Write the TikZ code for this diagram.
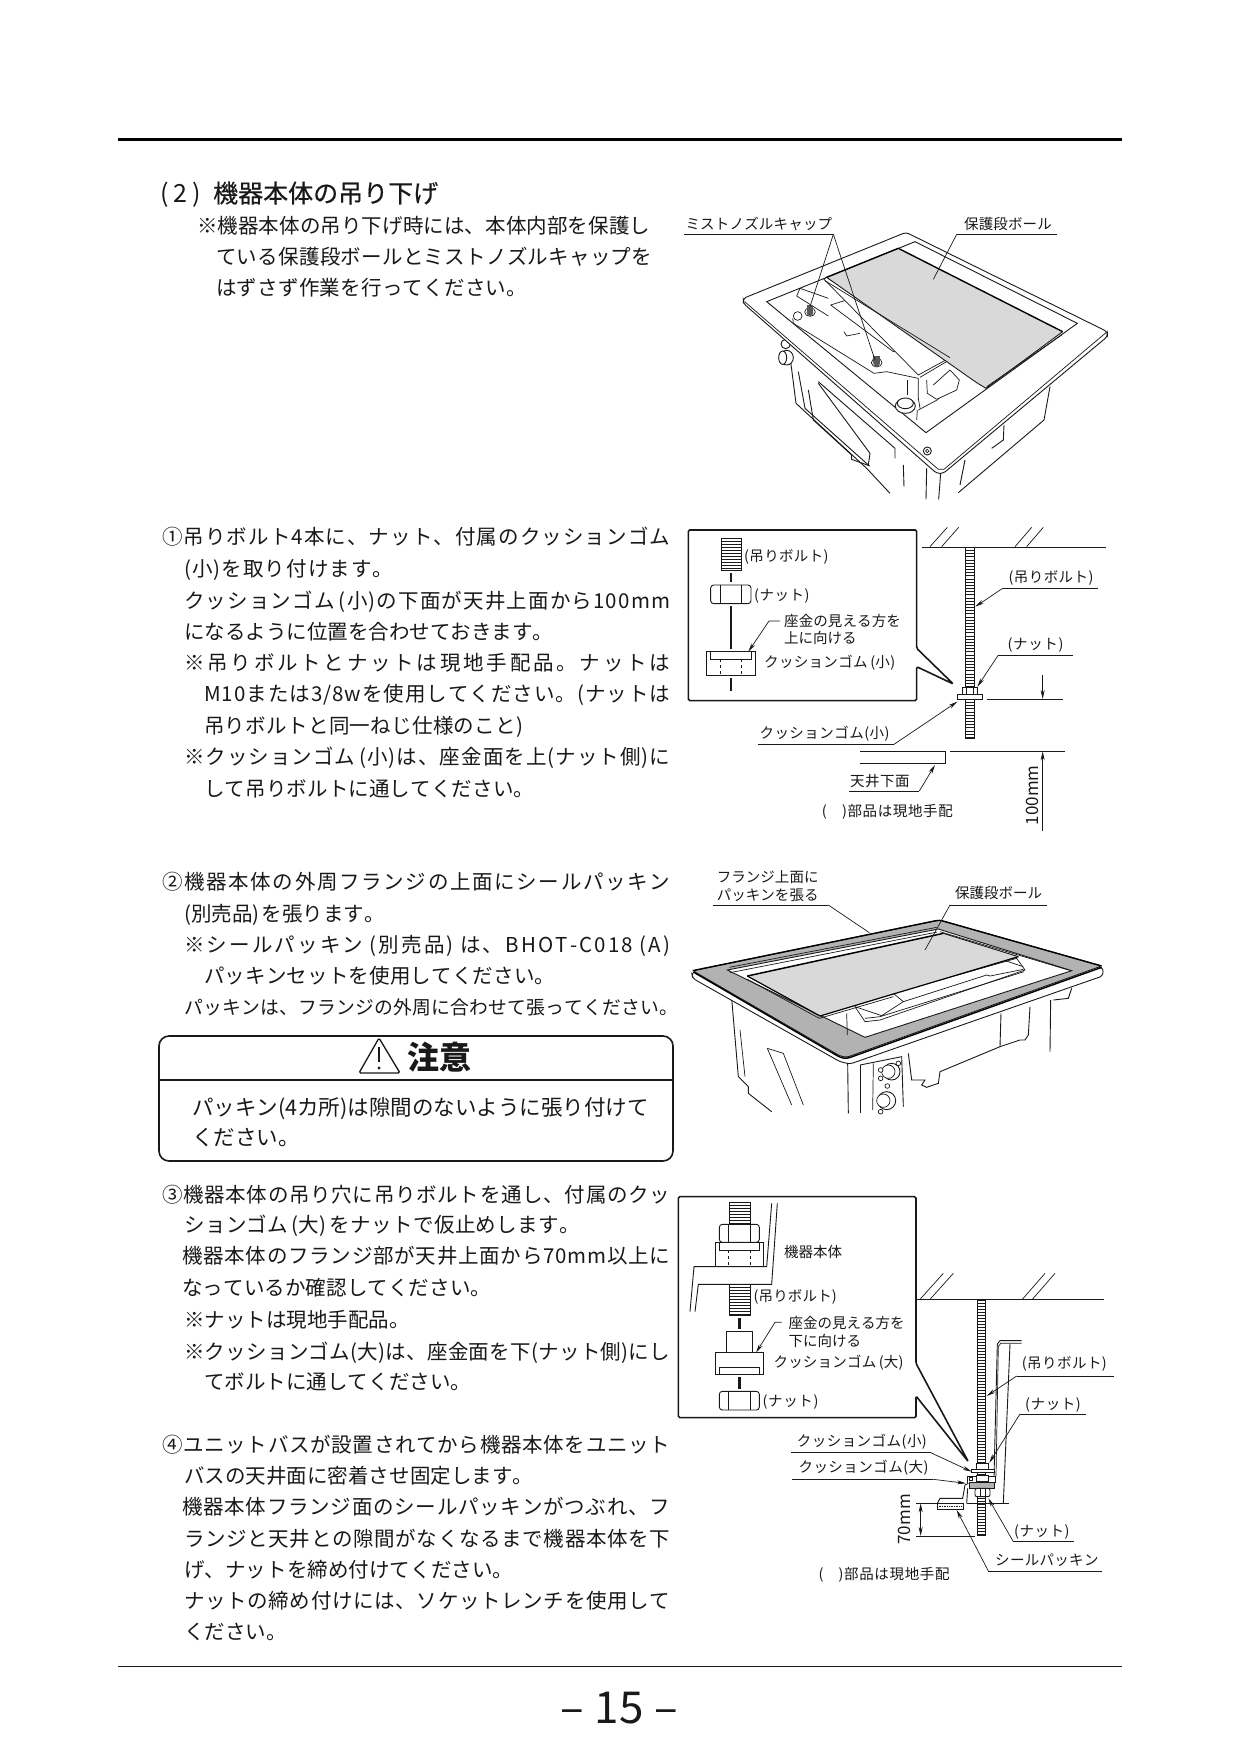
\documentclass[tikz,border=0pt]{standalone}
\usepackage{fontspec}
\setmainfont{Noto Sans CJK JP}
\newfontfamily\headfont[FakeBold=0.5]{Noto Sans CJK JP}
\usetikzlibrary{arrows.meta}
\definecolor{inkc}{gray}{0.1}
\definecolor{cardc}{gray}{0.85}
\definecolor{flangec}{gray}{0.7}
\def\zs{1}
\makeatletter
% text set between two x positions, letters spread out evenly
\newcommand{\spreadtext}[2]{\makebox[#1][s]{\def\chsep{}\@tfor\ch:=#2\do{\chsep\ch\def\chsep{\hfil}}}}
\makeatother
\newcommand{\tline}[6][bodytxt]{%
  \pgfmathsetlengthmacro{\wid}{(#4-#3)/\zs}%
  \node[#1] (#2) at (#3,#5) {\spreadtext{\wid}{#6}};}
\newcommand{\uline}[4]{%
  \coordinate (#1-l) at (#2,#4); \coordinate (#1-r) at (#3,#4);
  \draw[lnt] (#1-l) -- (#1-r);}
\newcommand{\boltbar}[5]{%
  \draw[ln,fill=white] (#1,#3) rectangle (#2,#4);
  \pgfmathsetmacro{\tnext}{#3+#5}%
  \foreach \ty in {#3,\tnext,...,#4}{\draw[lnt] (#1,\ty) -- (#2,\ty);}}
\tikzset{
  ln/.style={line width=0.9pt,draw=inkc},
  lnt/.style={line width=0.7pt,draw=inkc},
  bx/.style={line width=1.6pt,draw=inkc},
  leader/.style={line width=0.7pt,draw=inkc,-{Stealth[length=9pt,width=4pt]}},
  dimline/.style={line width=0.8pt,draw=inkc,-{Stealth[length=9pt,width=4pt]}},
  bodytxt/.style={anchor=base west,inner sep=0pt,font=\fontsize{20.5}{24}\selectfont,yshift=-8pt,text=inkc},
  labtxt/.style={anchor=base west,inner sep=0pt,font=\fontsize{14.5}{17}\selectfont,yshift=-5.5pt,text=inkc},
  zoomed/.style={x=0.33333pt,y=-0.33333pt},
}
\begin{document}
\begin{tikzpicture}[x=1pt,y=-1pt]
\useasboundingbox (0,0) rectangle (1241,1754);
\fill[white] (0,0) rectangle (1241,1754);
% page rules and number
\coordinate (topl) at (118,139); \coordinate (topr) at (1121.5,139);
\coordinate (botl) at (118,1666.5); \coordinate (botr) at (1121.5,1666.5);
\draw[line width=3pt,draw=black] (topl) -- (topr);
\draw[line width=0.9pt,draw=inkc] (botl) -- (botr);
\node[font=\fontsize{44}{46}\selectfont,text=inkc,inner sep=0pt] (pageno) at (619,1708.5) {–\hspace{11pt}15\hspace{11pt}–};
% heading and first note
\tline[bodytxt,font=\fontsize{25}{28}\selectfont,yshift=-1.5pt]{headno}{160}{201}{193}{(2)}
\node[anchor=base west,inner sep=0pt,font=\headfont\fontsize{25}{28}\selectfont,text=inkc,yshift=-9.5pt] (headtxt) at (213,193) {機器本体の吊り下げ};
\tline{na}{197}{650}{225}{※機器本体の吊り下げ時には、本体内部を保護し}
\tline{nb}{216}{652}{256}{ている保護段ボールとミストノズルキャップを}
\tline{nc}{216}{527}{287}{はずさず作業を行ってください。}
% step 1
\tline{aa}{162}{670}{536}{①吊りボルト4本に、ナット、付属のクッションゴム}
\tline{ab}{184}{393}{568}{(小)を取り付けます。}
\tline{ac}{184}{670}{600}{クッションゴム{\hspace{2pt}}(小)の下面が天井上面から100mm}
\tline{ad}{184}{553}{631}{になるように位置を合わせておきます。}
\tline{ae}{184}{670}{662}{※吊りボルトとナットは現地手配品。ナットは}
\tline{af}{204}{670}{693}{M10または3/8wを使用してください。(ナットは}
\tline{ag}{204}{523}{725}{吊りボルトと同一ねじ仕様のこと)}
\tline{ah}{184}{670}{756}{※クッションゴム{\hspace{2pt}}(小)は、座金面を上(ナット側)に}
\tline{ai}{204}{534}{788}{して吊りボルトに通してください。}
% step 2
\tline{ba}{162}{670}{881}{②機器本体の外周フランジの上面にシールパッキン}
\tline{bb}{184}{382}{913}{(別売品){\hspace{2pt}}を張ります。}
\tline{bc}{184}{670}{944}{※シールパッキン{\hspace{2pt}}(別売品){\hspace{2pt}}は、BHOT-C018{\hspace{2pt}}(A)}
\tline{bd}{204}{555}{975}{パッキンセットを使用してください。}
\tline[bodytxt,font=\fontsize{18.8}{22}\selectfont]{be}{184}{678}{1006}{パッキンは、フランジの外周に合わせて張ってください。}
% caution box
\coordinate (boxa) at (159,1080); \coordinate (boxb) at (673,1080);
\draw[bx,rounded corners=10pt] (159,1036) rectangle (673,1161);
\draw[line width=1.2pt,draw=inkc] (boxa) -- (boxb);
\draw[line width=1.3pt,draw=inkc,rounded corners=1.5pt] (379,1038) -- (400,1073) -- (359,1073) -- cycle;
\draw[line width=2.4pt,draw=inkc] (379,1047) -- (379,1062);
\fill[inkc] (379,1068) circle[radius=1.7];
\node[anchor=base west,inner sep=0pt,font=\bfseries\fontsize{32}{36}\selectfont,text=inkc,yshift=-12pt] (cauta) at (407,1057) {注意};
\tline[bodytxt,font=\fontsize{21.5}{24}\selectfont]{cb}{192}{640}{1107}{パッキン(4カ所)は隙間のないように張り付けて}
\tline[bodytxt,font=\fontsize{21.5}{24}\selectfont]{cc}{192}{293}{1137}{ください。}
% step 3
\tline{ca}{162}{670}{1194}{③機器本体の吊り穴に吊りボルトを通し、付属のクッ}
\tline{cd}{184}{580}{1224}{ションゴム{\hspace{2pt}}(大){\hspace{2pt}}をナットで仮止めします。}
\tline{ce}{182}{670}{1255}{機器本体のフランジ部が天井上面から70mm以上に}
\tline{cf}{182}{491}{1287}{なっているか確認してください。}
\tline{cg}{184}{408}{1319}{※ナットは現地手配品。}
\tline{ch}{184}{670}{1351}{※クッションゴム(大)は、座金面を下(ナット側)にし}
\tline{ci}{204}{471}{1381}{てボルトに通してください。}
% step 4
\tline{da}{162}{670}{1444}{④ユニットバスが設置されてから機器本体をユニット}
\tline{db}{184}{533}{1475}{バスの天井面に密着させ固定します。}
\tline{dc}{182}{670}{1506}{機器本体フランジ面のシールパッキンがつぶれ、フ}
\tline{dd}{184}{670}{1538}{ランジと天井との隙間がなくなるまで機器本体を下}
\tline{de}{184}{513}{1569}{げ、ナットを締め付けてください。}
\tline{df}{184}{670}{1600}{ナットの締め付けには、ソケットレンチを使用して}
\tline{dg}{184}{283}{1631}{ください。}
% top view of the unit
\begin{scope}[shift={(670,190)},zoomed]
\def\zs{3}
\draw[ln] (362,515)--(378,640)--(590,835)--(660,910);
\draw[ln] (385,545)--(405,655)--(595,825)--(600,790)--(445,580);
\draw[ln] (415,600)--(430,690)--(545,795)--(545,808)--(600,828);
\draw[ln] (445,575)--(675,775)--(675,805);
\draw[ln] (700,825)--(702,890); \draw[ln] (770,835)--(768,928); \draw[ln] (812,850)--(806,928);
\draw[ln] (885,810)--(870,885); \draw[ln] (1140,590)--(1122,690)--(865,908);
\draw[ln] (1002,705)--(1000,750)--(965,775);
\draw[ln,fill=white] (347,462) ellipse[x radius=14,y radius=14];
\draw[ln,fill=white] (350,503) ellipse[x radius=20,y radius=22];
\draw[ln,fill=white] (338,503) ellipse[x radius=12,y radius=20];
\draw[ln,fill=white,rounded corners=3pt] (220,325)--(708,127)--(1312,425)--(1312,440)--(820,850)--(800,850)--(220,340)--cycle;
\draw[lnt] (224,335)--(805,838)--(822,838)--(1308,428);
\draw[ln,fill=white] (290,335)--(735,155)--(1222,400)--(768,728)--cycle;
\draw[ln,fill=white] (772,783) circle[radius=12];
\draw[lnt] (772,783) circle[radius=5];
% parts below the card
\draw[lnt] (380,318)--(390,295)--(475,325);
\draw[lnt] (380,318)--(475,378);
\draw[lnt] (368,385)--(370,400)--(612,550)--(650,545)--(745,565)--(745,628);
\draw[lnt] (712,570)--(712,615);
\draw[lnt] (482,345)--(530,330)--(725,460)--(670,485)--cycle;
\draw[lnt] (522,425)--(530,438)--(570,430);
\draw[lnt] (690,490)--(745,550);
\draw[lnt] (750,655)--(745,625);
\draw[lnt] (770,570)--(772,610)--(800,628)--(860,600)--(868,570)--(840,540)--(790,585);
\draw[lnt] (745,660)--(805,628); \draw[lnt] (742,660)--(740,690);
\draw[lnt,fill=white] (383,378) circle[radius=13];
\draw[ln,fill=white] (706,648) ellipse[x radius=30,y radius=22];
\draw[ln,fill=white] (706,640) ellipse[x radius=24,y radius=16];
\draw[lnt,fill=white] (420,366) ellipse[x radius=16,y radius=13];
\draw[lnt,fill=white] (620,518) ellipse[x radius=16,y radius=13];
\fill[gray!70!black] (410,345) rectangle (430,368); \fill[gray!70!black] (420,368) circle[radius=10]; 
\fill[gray!70!black] (610,497) rectangle (630,520); \fill[gray!70!black] (620,520) circle[radius=10];
% protective card
\draw[lnt,fill=white] (462,268)--(745,555)--(840,503)--(470,262)--cycle;
\draw[lnt] (750,562)--(838,510);
\fill[cardc] (470,262)--(685,175)--(1178,425)--(948,595)--cycle;
\draw[line width=1.4pt,draw=black] (470,262)--(685,175)--(1178,425);
\draw[ln] (1178,425)--(948,595)--(920,578)--(470,262);
\draw[lnt] (465,272)--(840,503); \draw[lnt] (1175,435)--(950,590);
% labels
\tline[labtxt]{fa}{46}{486}{101}{ミストノズルキャップ}
\uline{fau}{42}{490}{133}
\coordinate (capa) at (420,350); \coordinate (capb) at (615,510);
\draw[leader,-] (fau-r) -- (capa); \draw[leader,-] (fau-r) -- (capb);
\tline[labtxt]{fb}{882}{1145}{101}{保護段ボール}
\uline{fbu}{860}{1160}{133}
\coordinate (carda) at (790,268);
\draw[leader,-] (fbu-l) -- (carda);
\end{scope}
% hanging bolt, first detail
\begin{scope}[shift={(670,510)},zoomed]
\def\zs{3}
\draw[bx,fill=white,rounded corners=1.5pt] (55,60)--(740,60)--(740,415)--(850,522)--(740,470)--(740,572)--(55,572)--cycle;
\boltbar{155}{215}{85}{182}{9}
\draw[line width=2pt,draw=inkc] (183,190)--(183,217);
\draw[line width=2pt,draw=inkc] (183,288)--(183,418);
\draw[line width=2pt,draw=inkc] (183,505)--(183,542);
\draw[ln,rounded corners=3pt] (122,225) rectangle (243,281);
\draw[ln] (152,225)--(152,281); \draw[ln] (213,225)--(213,281);
\draw[ln] (110,425) rectangle (257,496);
\draw[ln] (122,425) rectangle (245,447);
\draw[lnt,dashed] (152,447)--(152,496); \draw[lnt,dashed] (215,447)--(215,496);
\tline[labtxt]{ha}{222}{475}{138}{(吊りボルト)}
\tline[labtxt]{hb}{252}{418}{254}{(ナット)}
\tline[labtxt]{hc}{342}{692}{333}{座金の見える方を}
\tline[labtxt]{hd}{342}{556}{383}{上に向ける}
\tline[labtxt]{he}{282}{675}{455}{クッションゴム{\hspace{2pt}}(小)}
\coordinate (wa) at (330,333); \coordinate (wb) at (297,333); \coordinate (wc) at (235,425);
\draw[leader] (wa) -- (wb) -- (wc);
% ceiling and bolt
\coordinate (ceila) at (757,112); \coordinate (ceilb) at (1307,112);
\draw[ln] (ceila) -- (ceilb);
\draw[lnt] (780,110)--(832,52); \draw[lnt] (815,110)--(866,52);
\draw[lnt] (1035,110)--(1085,52); \draw[lnt] (1070,110)--(1120,52);
\boltbar{886}{914}{112}{686}{9.5}
\draw[ln,fill=white] (878,532) rectangle (922,552);
\draw[lnt] (890,532)--(890,552); \draw[lnt] (910,532)--(910,552);
\draw[ln,fill=white] (863,552) rectangle (937,568);
\draw[ln] (570,724)--(826,724)--(826,760)--(570,760);
\tline[labtxt]{ia}{1015}{1270}{200}{(吊りボルト)}
\uline{iau}{998}{1285}{235}
\coordinate (ita) at (916,290);
\draw[leader] (iau-l) -- (ita);
\tline[labtxt]{ib}{1012}{1180}{403}{(ナット)}
\uline{ibu}{985}{1208}{435}
\coordinate (itb) at (922,530);
\draw[leader] (ibu-l) -- (itb);
\tline[labtxt]{ic}{268}{658}{670}{クッションゴム(小)}
\uline{icu}{265}{672}{703}
\coordinate (itc) at (862,575);
\draw[leader] (icu-r) -- (itc);
\tline[labtxt]{id}{540}{718}{812}{天井下面}
\uline{idu}{538}{748}{843}
\coordinate (itd) at (795,765);
\draw[leader] (idu-r) -- (itd);
\tline[labtxt]{ie}{455}{848}{902}{({\hspace{14pt}})部品は現地手配}
% dimension
\coordinate (dima) at (1118,567); \coordinate (dimb) at (1118,724);
\draw[lnt] (950,567) -- (1180,567); \draw[lnt] (840,724) -- (1185,724);
\coordinate (dimc) at (1118,495); \coordinate (dimd) at (1118,962);
\draw[dimline] (dimc) -- (dima); \draw[dimline] (dimd) -- (dimb);
\node[rotate=90,inner sep=0pt,font=\fontsize{17}{20}\selectfont,text=inkc] (dimtxt) at (1086,856) {100mm};
\end{scope}
% unit with the flange packing
\begin{scope}[shift={(670,850)},zoomed]
\def\zs{3}
\draw[ln] (185,445)--(205,680)--(235,710)--(235,730)--(305,785);
\draw[lnt] (210,540)--(225,680);
\draw[lnt] (292,595)--(340,610)--(400,765); \draw[lnt] (292,595)--(365,765);
\draw[ln] (533,640)--(535,790); \draw[ln] (570,645)--(570,790); \draw[lnt] (610,640)--(608,780);
\draw[ln] (570,645)--(695,620)--(700,770);
\draw[ln] (715,610)--(725,690)--(765,690)--(755,705)--(770,712)--(805,700)--(810,665)--(990,590)--(993,490);
\draw[ln] (990,590)--(1050,570)--(1065,570)--(1075,555)--(1080,470);
\draw[ln] (1142,450)--(1140,605); \draw[ln] (1150,450)--(1195,445)--(1205,415);
\draw[ln,fill=white] (665,665) circle[radius=25];
\draw[lnt,fill=white] (655,665) circle[radius=20];
\draw[ln,fill=white] (650,752) circle[radius=27];
\draw[lnt,fill=white] (640,752) circle[radius=20];
\foreach \cx/\cy in {632/660,632/685,685/640,652/708,632/785}{\draw[lnt,fill=white] (\cx,\cy) circle[radius=7];}
% flange and packing
\draw[ln,fill=white,rounded corners=3pt] (65,368)--(808,215)--(1300,355)--(1298,378)--(540,642)--(510,635)--(68,385)--cycle;
\draw[ln,fill=flangec,rounded corners=3pt] (68,362)--(808,210)--(1295,348)--(530,622)--(510,618)--cycle;
\draw[line width=1.4pt,draw=black,rounded corners=3pt] (68,362)--(808,210)--(1295,348);
\draw[line width=1.4pt,draw=black,rounded corners=3pt] (70,366)--(510,622)--(530,626)--(1295,352);
\draw[ln,fill=white] (172,360)--(805,237)--(1205,362)--(585,562)--cycle;
\draw[lnt] (178,352)--(800,232); \draw[lnt] (810,245)--(1195,360); \draw[lnt] (180,368)--(802,246);
% card and the parts under it
\draw[lnt,fill=white] (555,462)--(1040,325)--(1065,360)--(630,510)--(585,515)--(555,470)--cycle;
\draw[lnt] (585,505)--(630,500)--(1062,365);
\draw[lnt] (670,430)--(700,455)--(950,375)--(960,378)--(1060,358);
\draw[lnt] (700,455)--(635,497)--(555,470);
\draw[lnt] (530,490)--(532,555); \draw[lnt] (1000,330)--(1060,350);
\fill[cardc] (232,378)--(820,250)--(1045,320)--(450,498)--cycle;
\draw[line width=1.5pt,draw=black] (232,378)--(820,250);
\draw[ln] (820,250)--(1045,320);
\draw[line width=1.2pt,draw=black] (232,378)--(450,498)--(670,432)--(1045,320);
\draw[lnt] (232,388)--(448,505)--(670,440);
\tline[labtxt]{pa}{140}{445}{80}{フランジ上面に}
\tline[labtxt]{pb}{140}{445}{135}{パッキンを張る}
\uline{pau}{128}{475}{165}
\coordinate (ptb) at (598,248);
\draw[leader,-] (pau-r) -- (ptb);
\tline[labtxt]{pc}{855}{1115}{130}{保護段ボール}
\uline{pcu}{840}{1132}{165}
\coordinate (ptc) at (765,300);
\draw[leader,-] (pcu-l) -- (ptc);
\end{scope}
% hanging bolt, second detail
\begin{scope}[shift={(670,1190)},zoomed]
\def\zs{3}
\draw[bx,fill=white,rounded corners=1.5pt] (25,20)--(738,20)--(738,520)--(895,815)--(738,618)--(738,683)--(25,683)--cycle;
\boltbar{178}{240}{38}{103}{9}
\draw[ln,rounded corners=3pt] (148,103)--(268,103)--(268,157)--(148,157)--cycle;
\draw[ln] (176,103)--(176,157); \draw[ln] (240,103)--(240,157);
\draw[ln] (135,157) rectangle (281,229);
\draw[ln] (148,157) rectangle (268,180);
\draw[lnt,dashed] (176,180)--(176,229); \draw[lnt,dashed] (240,180)--(240,229);
\draw[ln] (60,365)--(72,230)--(290,230)--(305,40);
\draw[ln] (75,365)--(85,283)--(305,283)--(322,40);
\boltbar{178}{240}{283}{377}{9}
\draw[line width=2.6pt,draw=inkc] (208,383)--(208,418);
\draw[ln] (169,425) rectangle (248,486);
\draw[ln] (136,486) rectangle (280,554);
\draw[ln] (148,532) rectangle (268,554);
\draw[line width=2.6pt,draw=inkc] (208,560)--(208,598);
\draw[ln,rounded corners=3pt] (148,604) rectangle (268,660);
\draw[ln] (176,604)--(176,660); \draw[ln] (240,604)--(240,660);
\tline[labtxt]{ja}{342}{515}{185}{機器本体}
\tline[labtxt]{jb}{250}{500}{318}{(吊りボルト)}
\tline[labtxt]{jc}{355}{700}{400}{座金の見える方を}
\tline[labtxt]{jd}{355}{568}{452}{下に向ける}
\tline[labtxt]{je}{310}{700}{517}{クッションゴム{\hspace{2pt}}(大)}
\tline[labtxt]{jf}{277}{445}{632}{(ナット)}
\coordinate (xa) at (335,397); \coordinate (xb) at (315,397); \coordinate (xc) at (258,488);
\draw[leader] (xa) -- (xb) -- (xc);
% ceiling, bolt, bracket
\coordinate (ceilc) at (740,328); \coordinate (ceild) at (1302,328);
\draw[ln] (ceilc) -- (ceild);
\draw[lnt] (750,328)--(820,250); \draw[lnt] (780,328)--(850,250);
\draw[lnt] (1057,328)--(1125,250); \draw[lnt] (1087,328)--(1155,250);
\boltbar{922}{946}{330}{1036}{9}
\draw[ln] (1055,452)--(990,452)--(982,462)--(972,860);
\draw[lnt] (1055,460)--(992,460)--(985,470)--(978,860);
\draw[ln] (1020,462)--(1000,940);
\draw[ln] (892,940)--(1018,940);
\draw[ln,fill=white] (918,820) rectangle (955,837);
\draw[ln,fill=white] (903,837) rectangle (972,847);
\draw[ln,fill=white] (918,855) rectangle (955,875);
\draw[ln] (893,880)--(893,858)--(918,858); \draw[ln] (955,858)--(975,858)--(975,880);
\draw[lnt] (898,862) rectangle (906,870);
\draw[ln,fill=gray!60] (898,878) rectangle (972,895);
\draw[ln,fill=white,rounded corners=2pt] (915,895) rectangle (960,920);
\draw[lnt] (930,895)--(930,920); \draw[lnt] (945,895)--(945,920);
\draw[ln] (895,880)--(885,885)--(878,925)--(810,925)--(802,940);
\draw[ln,fill=white] (802,940) rectangle (880,958);
\draw[lnt,densely dotted] (806,950)--(876,950);
\draw[ln] (893,895)--(890,940);
\tline[labtxt]{ka}{1055}{1310}{520}{(吊りボルト)}
\uline{kau}{1040}{1332}{558}
\coordinate (kta) at (950,618);
\draw[leader] (kau-l) -- (kta);
\tline[labtxt]{kb}{1065}{1232}{642}{(ナット)}
\uline{kbu}{1050}{1248}{672}
\coordinate (ktb) at (958,818);
\draw[leader] (kbu-l) -- (ktb);
\tline[labtxt]{kc}{380}{770}{752}{クッションゴム(小)}
\uline{kcu}{363}{780}{787}
\coordinate (ktc) at (905,845);
\draw[leader] (kcu-r) -- (ktc);
\tline[labtxt]{kd}{385}{775}{832}{クッションゴム(大)}
\uline{kdu}{367}{790}{868}
\coordinate (ktd) at (888,880);
\draw[leader] (kdu-r) -- (ktd);
\tline[labtxt]{ke}{1032}{1198}{1023}{(ナット)}
\uline{keu}{1030}{1212}{1055}
\coordinate (kte) at (955,925);
\draw[leader] (keu-l) -- (kte);
\tline[labtxt]{kf}{975}{1285}{1110}{シールパッキン}
\uline{kfu}{955}{1295}{1143}
\coordinate (ktf) at (860,960);
\draw[leader] (kfu-l) -- (ktf);
\tline[labtxt]{kg}{445}{838}{1152}{({\hspace{14pt}})部品は現地手配}
% dimension
\coordinate (dime) at (752,940); \coordinate (dimf) at (752,1038);
\draw[lnt] (738,940) -- (800,940); \draw[lnt] (738,1038) -- (915,1038);
\draw[dimline,{Stealth[length=9pt,width=4pt]}-{Stealth[length=9pt,width=4pt]}] (dime) -- (dimf);
\node[rotate=90,inner sep=0pt,font=\fontsize{17}{20}\selectfont,text=inkc] (dimtxtb) at (702,988) {70mm};
\end{scope}
\end{tikzpicture}
\end{document}
